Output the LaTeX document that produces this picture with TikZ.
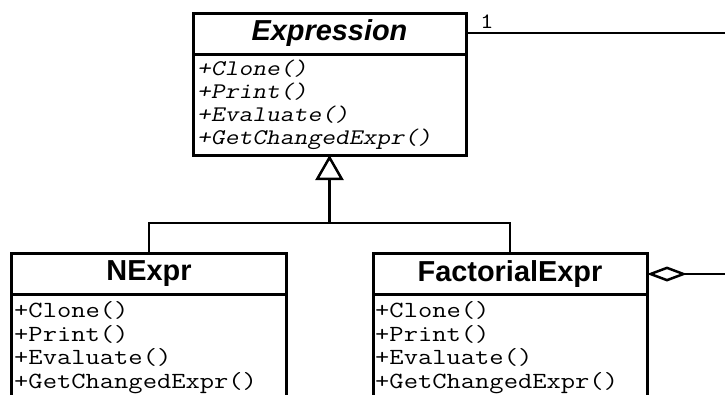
\documentclass[tikz,border=0pt]{standalone}
\usepackage{fontspec}
\setmainfont{Liberation Sans}
\newfontfamily\umlmono[FakeStretch=1.2]{Latin Modern Mono}
\newfontfamily\umlmonosl[FakeStretch=1.2,FakeSlant=0.2]{Latin Modern Mono}
\usetikzlibrary{arrows.meta}
\begin{document}
\begin{tikzpicture}[x=1bp,y=-1bp,
  classhead/.style={draw,line width=3bp,rectangle,inner sep=0pt,outer sep=0pt,font=\fontsize{29}{32}\selectfont\bfseries},
  classbody/.style={draw,line width=3bp,rectangle,inner sep=0pt,outer sep=0pt},
  method/.style={anchor=base west,inner sep=0pt,font=\umlmono\fontsize{23.2}{24}\selectfont},
  amethod/.style={method,font=\umlmonosl\fontsize{22.4}{24}\selectfont},
  conn/.style={line width=2.5bp}]
\useasboundingbox (0,0) rectangle (725,394);
\clip (0,0) rectangle (725,394);
% Expression
\node[classhead,minimum width=273bp,minimum height=41bp] (exprH) at (329.5,33.5) {\itshape Expression};
\node[classbody,minimum width=273bp,minimum height=101bp,anchor=north] (exprB) at (exprH.south) {};
\node[amethod] (e1) at (197,75) {+Clone()};
\node[amethod] (e2) at (197,98) {+Print()};
\node[amethod] (e3) at (197,121) {+Evaluate()};
\node[amethod] (e4) at (197,144) {+GetChangedExpr()};
% NExpr
\node[classhead,minimum width=274bp,minimum height=41bp] (nH) at (149,274) {NExpr};
\node[classbody,minimum width=274bp,minimum height=130bp,anchor=north] (nB) at (nH.south) {};
\node[method] (n1) at (14,317) {+Clone()};
\node[method] (n2) at (14,341) {+Print()};
\node[method] (n3) at (14,364.5) {+Evaluate()};
\node[method] (n4) at (14,388) {+GetChangedExpr()};
% FactorialExpr
\node[classhead,minimum width=274bp,minimum height=41bp] (fH) at (510,274) {FactorialExpr};
\node[classbody,minimum width=274bp,minimum height=130bp,anchor=north] (fB) at (fH.south) {};
\node[method] (f1) at (375,317) {+Clone()};
\node[method] (f2) at (375,341) {+Print()};
\node[method] (f3) at (375,364.5) {+Evaluate()};
\node[method] (f4) at (375,388) {+GetChangedExpr()};
% connectors
\coordinate (j) at (329.5,223);
\draw[conn] (nH.north) |- (j) -| (fH.north);
\draw[conn,-{Triangle[open,length=25bp,width=28bp,line width=2.5bp]}] (j) -- (exprB.south);
\coordinate (r1) at (730,33);
\draw[conn] (exprH.east |- r1) -- (r1);
\node[anchor=base west,inner sep=0pt,font=\umlmono\fontsize{22}{22}\selectfont] (one) at (480,28) {1};
\coordinate (r2) at (730,274);
\draw[conn,-{Diamond[open,length=40bp,width=15bp,line width=2.5bp]}] (r2) -- (fH.east);
\end{tikzpicture}
\end{document}
